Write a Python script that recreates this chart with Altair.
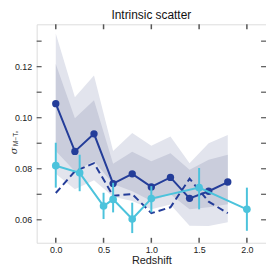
import altair as alt
import pandas as pd

# ---- data ----
z_model = [0.0, 0.2, 0.4, 0.6, 0.8, 1.0, 1.2, 1.4, 1.6, 1.8]
solid_vals = [0.1055, 0.0868, 0.0937, 0.0742, 0.0780, 0.0729, 0.0766, 0.0684, 0.0712, 0.0748]
dashed_vals = [0.0705, 0.0790, 0.0822, 0.0694, 0.0701, 0.0626, 0.0649, 0.0761, 0.0671, 0.0626]
outer_hi = [0.1330, 0.1080, 0.1165, 0.0870, 0.0940, 0.0890, 0.0926, 0.0822, 0.0900, 0.0932]
outer_lo = [0.0780, 0.0720, 0.0755, 0.0690, 0.0674, 0.0641, 0.0660, 0.0577, 0.0576, 0.0590]
inner_hi = [0.1210, 0.0998, 0.1068, 0.0820, 0.0867, 0.0829, 0.0861, 0.0796, 0.0835, 0.0855]
inner_lo = [0.0870, 0.0790, 0.0830, 0.0740, 0.0712, 0.0674, 0.0700, 0.0641, 0.0649, 0.0661]

z_obs = [0.0, 0.25, 0.5, 0.6, 0.8, 1.0, 1.5, 2.0]
obs_vals = [0.0812, 0.0784, 0.0654, 0.0680, 0.0603, 0.0683, 0.0726, 0.0641]
obs_hi = [0.0902, 0.0855, 0.0706, 0.0745, 0.0667, 0.0732, 0.0803, 0.0726]
obs_lo = [0.0726, 0.0712, 0.0603, 0.0629, 0.0548, 0.0629, 0.0641, 0.0557]

x_ticks = [0.0, 0.5, 1.0, 1.5, 2.0]
y_ticks = [0.06, 0.07, 0.08, 0.09, 0.10, 0.11, 0.12, 0.13]
y_labels = [0.06, 0.08, 0.10, 0.12]

DARK = "#243d99"
CYAN = "#4cc3dc"
W, H = 232, 221
XD = [-0.2, 2.2]
YD = [0.051, 0.1366]

model = pd.DataFrame({"z": z_model, "s": solid_vals, "d": dashed_vals,
                      "oh": outer_hi, "ol": outer_lo, "ih": inner_hi, "il": inner_lo})
obs = pd.DataFrame({"z": z_obs, "v": obs_vals, "hi": obs_hi, "lo": obs_lo})
xt = pd.DataFrame({"t": x_ticks})
yt = pd.DataFrame({"t": y_ticks})

xs = alt.Scale(domain=XD, nice=False, zero=False)
ys = alt.Scale(domain=YD, nice=False, zero=False)

X = alt.X("z:Q", scale=xs,
          axis=alt.Axis(values=x_ticks, format=".1f", title="Redshift", ticks=False,
                        grid=False, domain=False, labelFontSize=9, labelColor="#222",
                        labelPadding=3, titleFontSize=11, titleFontWeight="normal",
                        titleColor="#222", titlePadding=0, labelFont="Liberation Sans",
                        titleFont="Liberation Sans"))
Y = alt.Y("oh:Q", scale=ys,
          axis=alt.Axis(values=y_labels, format=".2f", title=None, ticks=False,
                        grid=False, domain=False, labelFontSize=9, labelColor="#222",
                        labelPadding=5, labelFont="Liberation Sans"))

outer = alt.Chart(model).mark_area(color="#e2e4ed", opacity=1).encode(
    x=X, y=Y, y2="ol:Q")
inner = alt.Chart(model).mark_area(color="#cacddc", opacity=1).encode(
    x=alt.X("z:Q", scale=xs), y=alt.Y("ih:Q", scale=ys), y2="il:Q")
solid = alt.Chart(model).mark_line(color=DARK, strokeWidth=2).encode(
    x=alt.X("z:Q", scale=xs), y=alt.Y("s:Q", scale=ys))
solid_pts = alt.Chart(model).mark_circle(color=DARK, size=55, opacity=1).encode(
    x=alt.X("z:Q", scale=xs), y=alt.Y("s:Q", scale=ys))
dashed = alt.Chart(model).mark_line(color=DARK, strokeWidth=2, strokeDash=[7, 4]).encode(
    x=alt.X("z:Q", scale=xs), y=alt.Y("d:Q", scale=ys))
err = alt.Chart(obs).mark_rule(color=CYAN, strokeWidth=2).encode(
    x=alt.X("z:Q", scale=xs), y=alt.Y("lo:Q", scale=ys), y2="hi:Q")
obs_line = alt.Chart(obs).mark_line(color=CYAN, strokeWidth=2).encode(
    x=alt.X("z:Q", scale=xs), y=alt.Y("v:Q", scale=ys))
obs_pts = alt.Chart(obs).mark_circle(color=CYAN, size=60, opacity=1).encode(
    x=alt.X("z:Q", scale=xs), y=alt.Y("v:Q", scale=ys))

TK = 5
tick_color = "#555"
xb = alt.Chart(xt).mark_rule(color=tick_color, strokeWidth=1.5).encode(
    x=alt.X("t:Q", scale=xs), y=alt.value(H), y2=alt.value(H - TK))
xtop = alt.Chart(xt).mark_rule(color=tick_color, strokeWidth=1.5).encode(
    x=alt.X("t:Q", scale=xs), y=alt.value(0), y2=alt.value(TK))
yl = alt.Chart(yt).mark_rule(color=tick_color, strokeWidth=1.2).encode(
    y=alt.Y("t:Q", scale=ys), x=alt.value(0), x2=alt.value(TK))
yr = alt.Chart(yt).mark_rule(color=tick_color, strokeWidth=1.2).encode(
    y=alt.Y("t:Q", scale=ys), x=alt.value(W - TK), x2=alt.value(W))

ylab = pd.DataFrame({"txt": ["σ"]})
ylab2 = pd.DataFrame({"txt": ["M−Tₓ"]})
sig = alt.Chart(ylab).mark_text(angle=270, fontSize=10, font="DejaVu Serif", fontStyle="italic",
                                color="#222", baseline="middle", align="center").encode(
    text="txt:N", x=alt.value(-23), y=alt.value(128))
sub = alt.Chart(ylab2).mark_text(angle=270, fontSize=6.5, font="Liberation Sans",
                                 color="#222", baseline="middle", align="left").encode(
    text="txt:N", x=alt.value(-21), y=alt.value(123))

chart = alt.layer(outer, inner, xb, xtop, yl, yr, solid, solid_pts, dashed, err, obs_line,
                  obs_pts, sig, sub).properties(
    width=W, height=H,
    title=alt.Title("Intrinsic scatter", fontSize=12, fontWeight="normal",
                    font="Liberation Sans", color="#111", offset=2),
    autosize=alt.AutoSizeParams(type="none"),
    padding={"left": 29, "top": 15, "right": 0, "bottom": 22},
).configure_view(stroke="#333", strokeWidth=1.2).configure(background="white")

chart.save("out.html", embed_options={"renderer": "svg", "actions": False})
